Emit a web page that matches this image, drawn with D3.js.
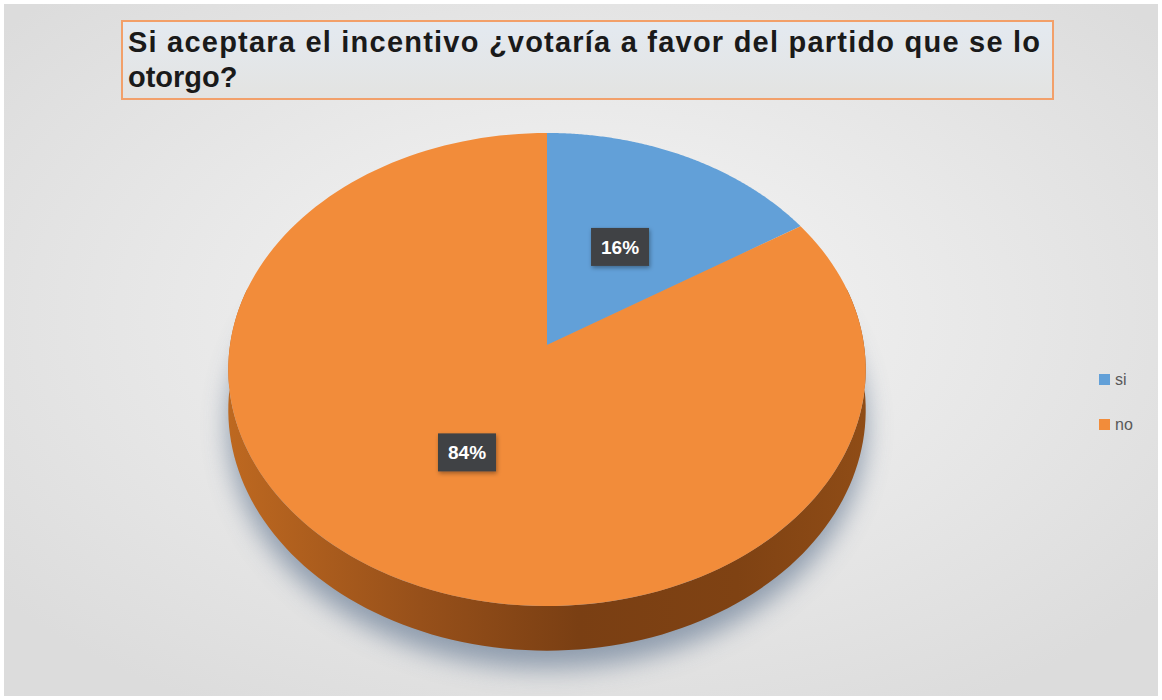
<!DOCTYPE html>
<html>
<head>
<meta charset="utf-8">
<script src="https://cdn.jsdelivr.net/npm/d3@7"></script>
<style>
  html, body { margin: 0; padding: 0; background: #ffffff; }
  svg { display: block; }
</style>
</head>
<body>
<svg id="chart" width="1162" height="700"></svg>
<script>
// Survey answers and their shares (percent)
const categories = ["si", "no"];
const values = [16, 84];
const colors = ["#62a0d8", "#f28c3a"];
const titleLines = [
  "Si aceptara el incentivo ¿votaría a favor del partido que se lo",
  "otorgo?"
];

const W = 1162, H = 700;
const svg = d3.select("#chart");
const defs = svg.append("defs");

// Background panel with soft radial light
const bgGrad = defs.append("radialGradient").attr("id", "bg")
  .attr("cx", "50%").attr("cy", "45%").attr("r", "65%");
bgGrad.append("stop").attr("offset", "0%").attr("stop-color", "#f6f6f6");
bgGrad.append("stop").attr("offset", "100%").attr("stop-color", "#dcdcdc");
svg.append("rect").attr("x", 4).attr("y", 4).attr("width", W - 8).attr("height", H - 8)
  .attr("fill", "url(#bg)");

// Title box
const tGrad = defs.append("linearGradient").attr("id", "tbox")
  .attr("x1", 0).attr("y1", 0).attr("x2", 0).attr("y2", 1);
tGrad.append("stop").attr("offset", "0%").attr("stop-color", "#e4eaf1");
tGrad.append("stop").attr("offset", "100%").attr("stop-color", "#e3e3e1");
svg.append("rect").attr("x", 122).attr("y", 21).attr("width", 931).attr("height", 78)
  .attr("fill", "url(#tbox)").attr("stroke", "#f2a06a").attr("stroke-width", 2);
const title = svg.append("text")
  .attr("font-family", "Liberation Sans, Arial, sans-serif")
  .attr("font-weight", "bold").attr("font-size", 29).attr("fill", "#1a1a1a");
titleLines.forEach((line, i) => {
  const t = title.append("tspan").attr("x", 128).attr("y", 52 + i * 35).text(line);
  if (i === 0) t.attr("textLength", 912).attr("lengthAdjust", "spacing");
});

// Perspective projection of the tilted disc
const cx = 547, cy = 345;
const R = 317;      // horizontal radius
const A = 234;      // depth radius
const k = 0.1036;   // perspective strength
const depth = 40;   // thickness of the disc

function project(angle, r, drop = 0) {
  // angle measured clockwise from 12 o'clock
  const u = Math.sin(angle) * r, v = -Math.cos(angle) * r;
  const s = 1 / (1 - k * v);
  return [cx + R * u * s, cy + A * v * s + drop * s];
}

const pie = d3.pie().sort(null).value(d => d.value);
const data = categories.map((c, i) => ({ name: c, value: values[i], color: colors[i] }));
const arcs = pie(data);
const line = d3.line();

function rimPoints(a0, a1, drop, n = 120) {
  return d3.range(n + 1).map(i => project(a0 + (a1 - a0) * i / n, 1, drop));
}

// Soft shadow under the disc
const blur = defs.append("filter").attr("id", "shadow")
  .attr("x", "-30%").attr("y", "-30%").attr("width", "160%").attr("height", "160%");
blur.append("feGaussianBlur").attr("stdDeviation", 13);
const shadowPts = rimPoints(0, 2 * Math.PI, depth + 16, 180);
svg.append("path")
  .attr("d", line(shadowPts) + "Z")
  .attr("fill", "#72849b").attr("opacity", 0.75)
  .attr("filter", "url(#shadow)");

// Side wall of the disc (front half)
const sideGrad = defs.append("linearGradient").attr("id", "side")
  .attr("gradientUnits", "userSpaceOnUse")
  .attr("x1", cx - R).attr("y1", 0).attr("x2", cx + R).attr("y2", 0);
[["0%", "#bd6820"], ["30%", "#97501a"], ["55%", "#7a3f13"], ["80%", "#7f4213"], ["100%", "#8f4c16"]]
  .forEach(([o, c]) => sideGrad.append("stop").attr("offset", o).attr("stop-color", c));
const a0 = Math.PI * 0.42, a1 = Math.PI * 1.58;
const sidePts = rimPoints(a0, a1, 0).concat(rimPoints(a0, a1, depth).reverse());
svg.append("path").attr("d", line(sidePts) + "Z").attr("fill", "url(#side)");

// Top face slices
svg.append("g").selectAll("path").data(arcs).join("path")
  .attr("d", d => {
    const pts = [project(0, 0)].concat(rimPoints(d.startAngle, d.endAngle, 0, 160));
    return line(pts) + "Z";
  })
  .attr("fill", d => d.data.color);

// Percentage labels in dark boxes
const lblShadow = defs.append("filter").attr("id", "lblsh")
  .attr("x", "-20%").attr("y", "-20%").attr("width", "150%").attr("height", "160%");
lblShadow.append("feDropShadow").attr("dx", 1).attr("dy", 2).attr("stdDeviation", 2)
  .attr("flood-color", "#000").attr("flood-opacity", 0.35);

const labels = svg.append("g").selectAll("g").data(arcs).join("g")
  .attr("transform", d => {
    const p = project((d.startAngle + d.endAngle) / 2, 0.5);
    return `translate(${p[0]},${p[1]})`;
  });
labels.append("rect").attr("x", -29).attr("y", -19).attr("width", 58).attr("height", 38)
  .attr("fill", "#3f4244").attr("filter", "url(#lblsh)");
labels.append("text")
  .attr("text-anchor", "middle").attr("dy", "0.36em")
  .attr("font-family", "Liberation Sans, Arial, sans-serif")
  .attr("font-weight", "bold").attr("font-size", 19).attr("fill", "#ffffff")
  .text(d => d.data.value + "%");

// Legend
const legend = svg.append("g").selectAll("g").data(data).join("g")
  .attr("transform", (d, i) => `translate(1099,${374 + i * 45})`);
legend.append("rect").attr("width", 11).attr("height", 11).attr("fill", d => d.color);
legend.append("text").attr("x", 16).attr("y", 11)
  .attr("font-family", "Liberation Sans, Arial, sans-serif")
  .attr("font-size", 16).attr("fill", "#595959")
  .text(d => d.name);
</script>
</body>
</html>
